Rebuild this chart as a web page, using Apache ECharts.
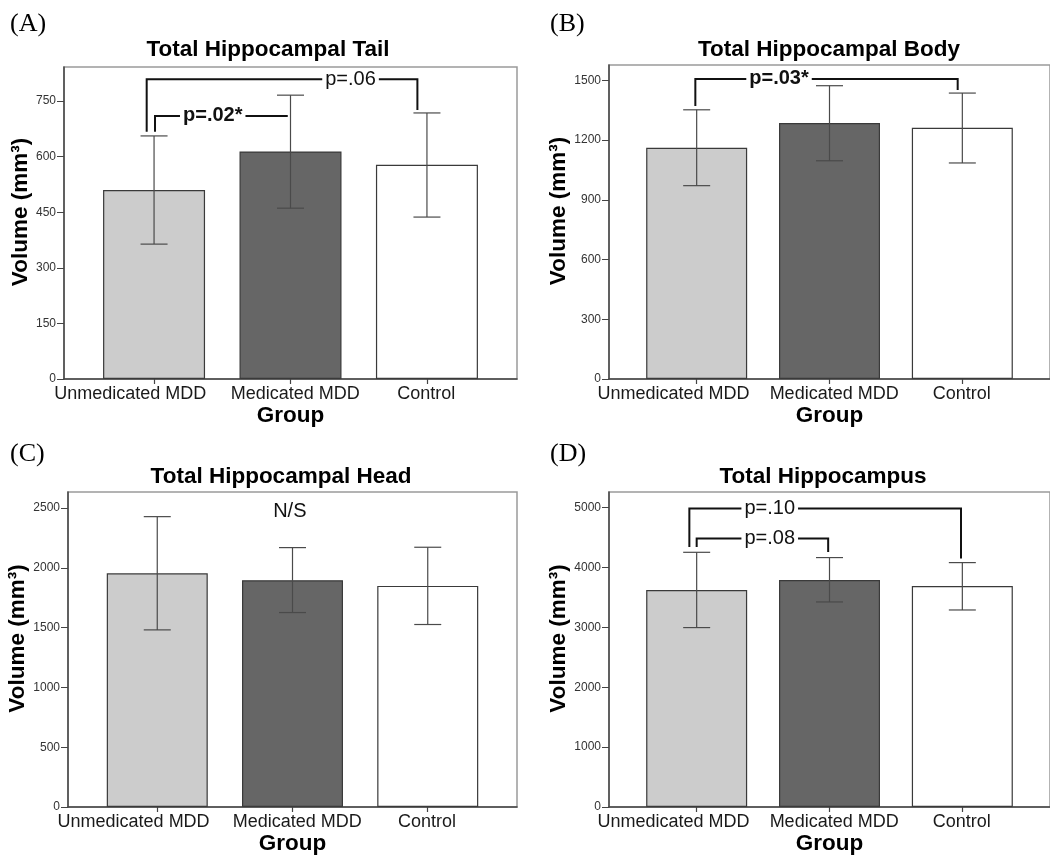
<!DOCTYPE html>
<html><head><meta charset="utf-8">
<script src="https://cdn.jsdelivr.net/npm/echarts@6/dist/echarts.min.js"></script>
<style>html,body{margin:0;padding:0;background:#fff}#c{width:1050px;height:859px}</style>
</head><body><div id="c"></div>
<script>
// ---------- data ----------
const categories = ['Unmedicated MDD', 'Medicated MDD', 'Control'];
const categoryPositions = [0, 1, 2];
const categoryLabelPositions = [-0.175, 1.035, 1.995];
const barColors = ['#cccccc', '#666666', '#ffffff'];

const panelLetters = ['(A)', '(B)', '(C)', '(D)'];
const panelTitles = ['Total Hippocampal Tail', 'Total Hippocampal Body', 'Total Hippocampal Head', 'Total Hippocampus'];

const tailMean = [510, 614, 578];
const tailLow  = [364, 461, 437];
const tailHigh = [656, 766, 718];
const tailTicks = [0, 150, 300, 450, 600, 750];

const bodyMean = [1161, 1286, 1262];
const bodyLow  = [971, 1096, 1085];
const bodyHigh = [1352, 1473, 1436];
const bodyTicks = [0, 300, 600, 900, 1200, 1500];

const headMean = [1954, 1896, 1849];
const headLow  = [1481, 1626, 1526];
const headHigh = [2428, 2169, 2172];
const headTicks = [0, 500, 1000, 1500, 2000, 2500];

const totalMean = [3624, 3791, 3691];
const totalLow  = [2996, 3424, 3290];
const totalHigh = [4253, 4165, 4081];
const totalTicks = [0, 1000, 2000, 3000, 4000, 5000];

// brackets: [x1, x2, yTop, yLeftEnd, yRightEnd, textX]
const tailBrackets = [[-0.054, 1.93, 809, 667, 726, 1.44], [0.007, 0.98, 710, 667, 710, 0.43]];
const tailBracketLabels = ['p=.06', 'p=.02*'];
const tailBracketBold = [false, true];

const bodyBrackets = [[-0.01, 1.965, 1507, 1371, 1451, 0.62]];
const bodyBracketLabels = ['p=.03*'];
const bodyBracketBold = [true];

const headBrackets = [[0.98, 0.98, 2467, 2467, 2467, 0.98]];
const headBracketLabels = ['N/S'];
const headBracketBold = [false];

const totalBrackets = [[-0.055, 1.99, 4983, 4342, 4148, 0.55], [0.0, 0.99, 4482, 4342, 4259, 0.55]];
const totalBracketLabels = ['p=.10', 'p=.08'];
const totalBracketBold = [false, false];

const yMaxes = [842, 1577, 2634, 5260];
const yIntervals = [150, 300, 500, 1000];

// ---------- layout ----------
const layout = [
  {grid: {left: 64, top: 67, width: 453, height: 312}, title: [268, 50], letter: [10, 24], nameGap: 30, barWidth: 102},
  {grid: {left: 609, top: 65, width: 446, height: 314}, title: [829, 50], letter: [550, 24], nameGap: 35, barWidth: 101},
  {grid: {left: 68, top: 492, width: 449, height: 315}, title: [281, 477], letter: [10, 454], nameGap: 34, barWidth: 101},
  {grid: {left: 609, top: 492, width: 446, height: 315}, title: [823, 477], letter: [550, 454], nameGap: 35, barWidth: 101}
];

const panels = [
  {mean: tailMean, low: tailLow, high: tailHigh, ticks: tailTicks, br: tailBrackets, brL: tailBracketLabels, brB: tailBracketBold},
  {mean: bodyMean, low: bodyLow, high: bodyHigh, ticks: bodyTicks, br: bodyBrackets, brL: bodyBracketLabels, brB: bodyBracketBold},
  {mean: headMean, low: headLow, high: headHigh, ticks: headTicks, br: headBrackets, brL: headBracketLabels, brB: headBracketBold},
  {mean: totalMean, low: totalLow, high: totalHigh, ticks: totalTicks, br: totalBrackets, brL: totalBracketLabels, brB: totalBracketBold}
];

const FONT = '"Liberation Sans", Arial, sans-serif';
const grids = [], xAxes = [], yAxes = [], series = [], graphics = [];

panels.forEach((p, i) => {
  const L = layout[i];
  grids.push(Object.assign({show: true, borderColor: '#9a9a9a', borderWidth: 1.5, backgroundColor: 'transparent'}, L.grid));
  xAxes.push({
    type: 'value', gridIndex: i, min: -0.66, max: 2.66,
    name: 'Group', nameLocation: 'middle', nameGap: 25,
    nameTextStyle: {fontFamily: FONT, fontWeight: 'bold', fontSize: 22.5, color: '#000'},
    axisLine: {show: true, onZero: false, lineStyle: {color: '#444', width: 1.5}},
    axisTick: {show: true, customValues: categoryPositions, length: 5, lineStyle: {color: '#444', width: 1.2}},
    axisLabel: {show: true, customValues: categoryLabelPositions, margin: 6, fontFamily: FONT, fontSize: 18, color: '#1a1a1a',
      showMinLabel: true, showMaxLabel: true, hideOverlap: false,
      formatter: v => categories[Math.abs(Math.round(v))]},
    splitLine: {show: false}
  });
  yAxes.push({
    type: 'value', gridIndex: i, min: 0, max: yMaxes[i], interval: yIntervals[i],
    name: 'Volume (mm³)', nameLocation: 'middle', nameRotate: 90, nameGap: L.nameGap,
    nameTextStyle: {fontFamily: FONT, fontWeight: 'bold', fontSize: 22.5, color: '#000', padding: [0, 0, 0, 22]},
    axisLine: {show: true, onZero: false, lineStyle: {color: '#444', width: 1.5}},
    axisTick: {show: true, customValues: p.ticks, length: 7, lineStyle: {color: '#444', width: 1}},
    axisLabel: {show: true, customValues: p.ticks, margin: 8, fontFamily: FONT, fontSize: 12, color: '#333',
      formatter: v => String(v)},
    splitLine: {show: false}
  });
  series.push({
    type: 'bar', xAxisIndex: i, yAxisIndex: i, barWidth: L.barWidth, silent: true, z: 2,
    itemStyle: {borderColor: '#3a3a3a', borderWidth: 1.2},
    data: p.mean.map((v, k) => ({value: [categoryPositions[k], v], itemStyle: {color: barColors[k]}}))
  });
  series.push({
    type: 'custom', xAxisIndex: i, yAxisIndex: i, silent: true, z: 5,
    encode: {x: 0, y: [1, 2]},
    data: p.mean.map((v, k) => [categoryPositions[k], p.low[k], p.high[k]]),
    renderItem: (params, api) => {
      const x = api.value(0);
      const a = api.coord([x, api.value(2)]), b = api.coord([x, api.value(1)]);
      const c = 13.5, st = {stroke: '#4a4a4a', lineWidth: 1.2};
      return {type: 'group', children: [
        {type: 'line', shape: {x1: a[0], y1: a[1], x2: b[0], y2: b[1]}, style: st},
        {type: 'line', shape: {x1: a[0] - c, y1: a[1], x2: a[0] + c, y2: a[1]}, style: st},
        {type: 'line', shape: {x1: b[0] - c, y1: b[1], x2: b[0] + c, y2: b[1]}, style: st}
      ]};
    }
  });
  series.push({
    type: 'custom', xAxisIndex: i, yAxisIndex: i, silent: true, z: 6,
    encode: {x: [0, 1, 5], y: [2, 3, 4]},
    data: p.br,
    renderItem: (params, api) => {
      const x1 = api.value(0), x2 = api.value(1), yt = api.value(2), yl = api.value(3), yr = api.value(4), tx = api.value(5);
      const p1 = api.coord([x1, yl]), p2 = api.coord([x1, yt]), p3 = api.coord([x2, yt]), p4 = api.coord([x2, yr]);
      const t = api.coord([tx, yt]);
      const label = p.brL[params.dataIndex], bold = p.brB[params.dataIndex];
      const children = [];
      if (x2 !== x1) {
        children.push({type: 'polyline', shape: {points: [p1, p2, p3, p4]}, style: {stroke: '#111', lineWidth: 2, fill: null}});
      }
      children.push({type: 'text', x: t[0], y: t[1], style: {
        text: label, fontFamily: FONT, fontSize: 20, fontWeight: bold ? 'bold' : 'normal',
        fill: '#111', align: 'center', verticalAlign: 'middle',
        backgroundColor: x2 !== x1 ? '#fff' : null, padding: [0, 3]
      }});
      return {type: 'group', children};
    }
  });
  graphics.push({type: 'text', x: L.title[0], y: L.title[1], style: {
    text: panelTitles[i], fontFamily: FONT, fontWeight: 'bold', fontSize: 22.5, fill: '#000', align: 'center', verticalAlign: 'middle'}});
  graphics.push({type: 'text', x: L.letter[0], y: L.letter[1], style: {
    text: panelLetters[i], fontFamily: '"Liberation Serif", "Times New Roman", serif', fontSize: 26, fill: '#000', align: 'left', verticalAlign: 'middle'}});
});

const chart = echarts.init(document.getElementById('c'), null, {renderer: 'canvas'});
chart.setOption({
  animation: false,
  backgroundColor: '#fff',
  grid: grids, xAxis: xAxes, yAxis: yAxes, series: series, graphic: graphics
});
</script>
</body></html>
